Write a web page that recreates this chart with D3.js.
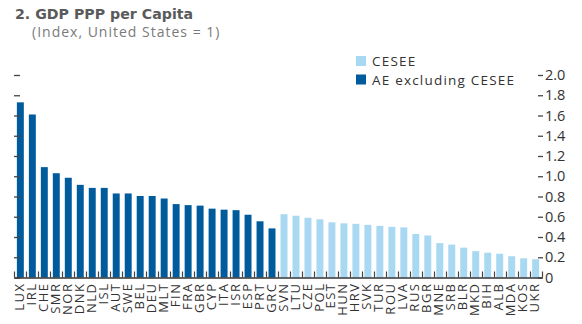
<!DOCTYPE html>
<html>
<head>
<meta charset="utf-8">
<script src="https://cdn.jsdelivr.net/npm/d3@7"></script>
<style>
  html, body { margin: 0; padding: 0; background: #fff; }
  svg { display: block; font-family: "Open Sans", "Noto Sans", sans-serif; }
</style>
</head>
<body>
<div id="chart"></div>
<script>
// Advanced economies excluding CESEE
const aeCountries = ["LUX", "IRL", "CHE", "SMR", "NOR", "DNK", "NLD", "ISL", "AUT", "SWE", "BEL",
  "DEU", "MLT", "FIN", "FRA", "GBR", "CYP", "ITA", "ISR", "ESP", "PRT", "GRC"];
const aeValues = [1.73, 1.61, 1.09, 1.03, 0.985, 0.915, 0.885, 0.885, 0.83, 0.83, 0.805,
  0.805, 0.78, 0.725, 0.715, 0.71, 0.68, 0.67, 0.665, 0.62, 0.555, 0.485];

// Central, Eastern and Southeastern Europe
const ceseeCountries = ["SVN", "LTU", "CZE", "POL", "EST", "HUN", "HRV", "SVK", "TUR", "ROU", "LVA",
  "RUS", "BGR", "MNE", "SRB", "BLR", "MKD", "BIH", "ALB", "MDA", "KOS", "UKR"];
const ceseeValues = [0.625, 0.61, 0.59, 0.575, 0.545, 0.535, 0.53, 0.52, 0.51, 0.5, 0.495,
  0.43, 0.415, 0.34, 0.325, 0.295, 0.26, 0.245, 0.235, 0.21, 0.19, 0.18];

const yTicks = [0, 0.2, 0.4, 0.6, 0.8, 1.0, 1.2, 1.4, 1.6, 1.8, 2.0];
const seriesNames = ["CESEE", "AE excluding CESEE"];
const colors = { "CESEE": "#a9d8f2", "AE excluding CESEE": "#005b9d" };

const width = 582, height = 324;
const plot = { left: 14, right: 542, top: 75, bottom: 277.5 };

const data = aeCountries.map((c, i) => ({ country: c, value: aeValues[i], group: "AE excluding CESEE" }))
  .concat(ceseeCountries.map((c, i) => ({ country: c, value: ceseeValues[i], group: "CESEE" })));

const svg = d3.select("#chart").append("svg")
  .attr("width", width)
  .attr("height", height);

const x = d3.scaleBand()
  .domain(data.map(d => d.country))
  .range([plot.left, plot.right])
  .paddingInner(0.42)
  .paddingOuter(0.24);

// boundaries between categories, used for the small ticks along the base
const xEdge = d3.scaleLinear().domain([0, data.length]).range([plot.left, plot.right]);

const y = d3.scaleLinear().domain([0, 2]).range([plot.bottom, plot.top]);

// title
svg.append("text")
  .attr("x", 15).attr("y", 19)
  .attr("font-family", "\"DejaVu Sans\", sans-serif")
  .attr("font-size", 14.2).attr("font-weight", 700)
  .attr("fill", "#5a5a5a")
  .text("2. GDP PPP per Capita");
svg.append("text")
  .attr("x", 32).attr("y", 37)
  .attr("font-size", 14)
  .attr("letter-spacing", 1)
  .attr("fill", "#7a7a7a")
  .text("(Index, United States = 1)");

// bars
svg.append("g").selectAll("rect")
  .data(data)
  .join("rect")
  .attr("x", d => x(d.country))
  .attr("width", x.bandwidth())
  .attr("y", d => y(d.value))
  .attr("height", d => y(0) - y(d.value))
  .attr("fill", d => colors[d.group]);

// left axis: ticks only
const leftAxis = svg.append("g")
  .attr("transform", `translate(${plot.left},0)`)
  .call(d3.axisRight(y).tickValues(yTicks).tickSize(6).tickFormat(""));
leftAxis.select(".domain").remove();
leftAxis.selectAll("line").attr("stroke", "#444").attr("stroke-width", 1.3);

// right axis with labels
const rightAxis = svg.append("g")
  .attr("transform", `translate(${plot.right - 4},0)`)
  .call(d3.axisRight(y).tickValues(yTicks).tickSize(5).tickPadding(2)
    .tickFormat(d => d === 0 ? "0" : d3.format(".1f")(d)));
rightAxis.select(".domain").remove();
rightAxis.selectAll("line").attr("stroke", "#444").attr("stroke-width", 1.3);
rightAxis.selectAll("text")
  .attr("font-size", 14.5).attr("fill", "#333")
  .attr("font-family", "\"Open Sans\", sans-serif");

// base line with category separator ticks
const edgeAxis = svg.append("g")
  .attr("transform", `translate(0,${plot.bottom})`)
  .call(d3.axisBottom(xEdge).tickValues(d3.range(data.length + 1)).tickSize(-6).tickSizeOuter(0).tickFormat(""));
edgeAxis.select(".domain").attr("stroke", "#333").attr("stroke-width", 1.6);
edgeAxis.selectAll("line").attr("stroke", "#444").attr("stroke-width", 1.2);

// country labels, rotated
const labelAxis = svg.append("g")
  .attr("transform", `translate(0,${plot.bottom})`)
  .call(d3.axisBottom(x).tickSize(0).tickPadding(0));
labelAxis.select(".domain").remove();
labelAxis.selectAll("text")
  .attr("transform", "rotate(-90)")
  .attr("text-anchor", "end")
  .attr("x", -5)
  .attr("y", -1)
  .attr("dy", "0.35em")
  .attr("font-size", 13)
  .attr("letter-spacing", 1.5)
  .attr("fill", "#333")
  .attr("font-family", "\"Open Sans\", sans-serif");

// legend
const legend = svg.append("g").attr("transform", "translate(356,56)");
seriesNames.forEach((name, i) => {
  const row = legend.append("g").attr("transform", `translate(0,${i * 18.5})`);
  row.append("rect").attr("width", 10).attr("height", 10).attr("fill", colors[name]);
  row.append("text")
    .attr("x", 16).attr("y", 10)
    .attr("font-size", 13.5).attr("letter-spacing", 1.2).attr("fill", "#333")
    .text(name);
});
</script>
</body>
</html>
